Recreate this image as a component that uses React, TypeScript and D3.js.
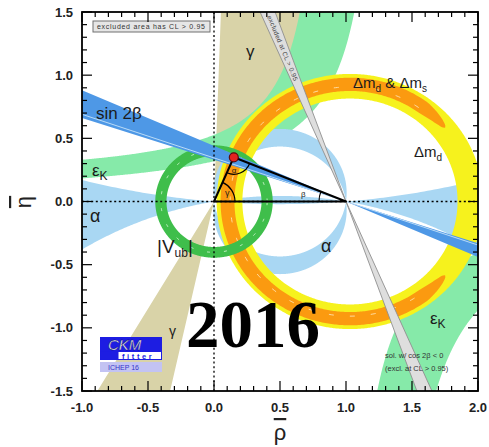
import React from "react";
import * as d3 from "d3";

// ---- axis ticks ----
const rhoTicks = [-1, -0.5, 0, 0.5, 1, 1.5, 2];
const rhoLabels = ["-1.0", "-0.5", "0.0", "0.5", "1.0", "1.5", "2.0"];
const etaTicks = [-1.5, -1, -0.5, 0, 0.5, 1, 1.5];
const etaLabels = ["-1.5", "-1.0", "-0.5", "0.0", "0.5", "1.0", "1.5"];

// ---- constraint parameters (rho-bar, eta-bar plane) ----
const apex = [0.15, 0.35];
const gammaUpper = [62, 88]; // wedge angles from the origin, degrees
const gammaLower = [239.5, 257.5];
const sin2bTan = [0.33, 0.44]; // tan(beta) edges of the band through (1,0)
const sin2bCore = [0.345];
const cos2bNegSlope = [0.358, 0.434]; // |d rho / d eta| of the second solution
const alphaNear = [0.07, -0.07]; // circle centres (0.5, c) through (0,0),(1,0)
const alphaFar = [5.97, -2.82];
const epsUpperEdges = [
  [1.35, 0.43, 0],
  [0.9, 0.337, 0.153],
]; // eta = b + k / (a - rho)
const epsLowerEdges = [
  [0.95, 0.43],
  [1.257, 0.639],
]; // eta = -k / (rho - a)
const vubRange = [0.36, 0.445];
const dmCentre = [1.03];
const dmdRange = [0.815, 1.01];
const dmsRange = [0.875, 0.98];
const dmsArc = [39, 321];

const W = 489;
const H = 447;

export default function App() {
  const x = d3.scaleLinear().domain([-1, 2]).range([82, 478]);
  const y = d3.scaleLinear().domain([-1.5, 1.5]).range([391, 12]);
  const line = d3
    .line<number[]>()
    .x((d) => x(d[0]))
    .y((d) => y(d[1]));
  const poly = (pts: number[][]) => (line(pts) as string) + "Z";
  const circlePts = (cx: number, cy: number, r: number, n = 720) =>
    d3.range(n).map((i) => {
      const t = (2 * Math.PI * i) / n;
      return [cx + r * Math.cos(t), cy + r * Math.sin(t)];
    });
  const throughBase = (c: number) => circlePts(0.5, c, Math.sqrt(0.25 + c * c), 1440);

  const x0 = x(-1),
    x1 = x(2),
    y0 = y(1.5),
    y1 = y(-1.5);
  const rectPath = `M${x0 - 5},${y0 - 5}H${x1 + 5}V${y1 + 5}H${x0 - 5}Z`;

  // gamma wedges
  const wedge = (a: number[]) => {
    const R = 4;
    return poly([
      [0, 0],
      [R * Math.cos((a[0] * Math.PI) / 180), R * Math.sin((a[0] * Math.PI) / 180)],
      [R * Math.cos((a[1] * Math.PI) / 180), R * Math.sin((a[1] * Math.PI) / 180)],
    ]);
  };

  // epsilon_K bands
  const epsU = (e: number[], r: number) => e[2] + e[1] / (e[0] - r);
  const topRho = (e: number[], h: number) => e[0] - e[1] / (h - e[2]);
  const eU0 = epsUpperEdges[0];
  const eU1 = epsUpperEdges[1];
  const rTop0 = topRho(eU0, 1.6);
  const rTop1 = topRho(eU1, 1.6);
  const upperEps = [
    ...d3.range(0, 301).map((i) => {
      const r = -1.1 + ((rTop0 + 1.1) * i) / 300;
      return [r, epsU(eU0, r)];
    }),
    ...d3.range(0, 301).map((i) => {
      const r = rTop1 - ((rTop1 + 1.1) * i) / 300;
      return [r, epsU(eU1, r)];
    }),
  ];
  const eL0 = epsLowerEdges[0];
  const eL1 = epsLowerEdges[1];
  const bot0 = eL0[0] + eL0[1] / 1.6;
  const bot1 = eL1[0] + eL1[1] / 1.6;
  const lowerEps = [
    ...d3.range(0, 301).map((i) => {
      const r = bot0 + ((2.1 - bot0) * i) / 300;
      return [r, -eL0[1] / (r - eL0[0])];
    }),
    ...d3.range(0, 301).map((i) => {
      const r = 2.1 - ((2.1 - bot1) * i) / 300;
      return [r, -eL1[1] / (r - eL1[0])];
    }),
  ];

  // sin 2beta band through (1,0)
  const sinBand =
    poly([
      [1, 0],
      [-1.2, sin2bTan[0] * 2.2],
      [-1.2, sin2bTan[1] * 2.2],
    ]) +
    poly([
      [1, 0],
      [2.2, -sin2bTan[0] * 1.2],
      [2.2, -sin2bTan[1] * 1.2],
    ]);
  const sinCore = line([
    [-1.2, sin2bCore[0] * 2.2],
    [2.2, -sin2bCore[0] * 1.2],
  ]) as string;

  // cos 2beta < 0 solution
  const grayBand =
    poly([
      [1, 0],
      [1 - cos2bNegSlope[0] * 1.6, 1.6],
      [1 - cos2bNegSlope[1] * 1.6, 1.6],
    ]) +
    poly([
      [1, 0],
      [1 + cos2bNegSlope[0] * 1.6, -1.6],
      [1 + cos2bNegSlope[1] * 1.6, -1.6],
    ]);

  // alpha regions
  const alphaFarPath =
    rectPath + poly(throughBase(alphaFar[0])) + poly(throughBase(alphaFar[1]));
  const alphaNearPath = poly(throughBase(alphaNear[0])) + poly(throughBase(alphaNear[1]));

  // rings
  const ring = (cx: number, r: number[]) =>
    poly(circlePts(cx, 0, r[1])) + poly(circlePts(cx, 0, r[0]));
  const cm = dmCentre[0];
  const dmsMid = (dmsRange[0] + dmsRange[1]) / 2;
  const dmsHalf = (dmsRange[1] - dmsRange[0]) / 2;
  const dmsPts = (() => {
    const n = 400;
    const taper = 14;
    const outer: number[][] = [];
    const inner: number[][] = [];
    for (let i = 0; i <= n; i++) {
      const th = dmsArc[0] + ((dmsArc[1] - dmsArc[0]) * i) / n;
      const f = Math.min(1, (th - dmsArc[0]) / taper, (dmsArc[1] - th) / taper);
      const hw = dmsHalf * Math.sqrt(Math.max(0, f));
      const t = (th * Math.PI) / 180;
      outer.push([cm + (dmsMid + hw) * Math.cos(t), (dmsMid + hw) * Math.sin(t)]);
      inner.push([cm + (dmsMid - hw) * Math.cos(t), (dmsMid - hw) * Math.sin(t)]);
    }
    return [...outer, ...inner.reverse()];
  })();
  const dmsDash = circlePts(cm, 0, dmsMid - 0.02, 360).filter(
    (p) => Math.abs(Math.atan2(p[1], p[0] - cm)) > 0.95
  );

  // unitarity triangle
  const O = [x(0), y(0)];
  const B = [x(1), y(0)];
  const A = [x(apex[0]), y(apex[1])];
  const angTo = (p: number[], q: number[]) => Math.atan2(q[1] - p[1], q[0] - p[0]);
  const arcD = (c: number[], r: number, a0: number, a1: number) => {
    const p = d3.path();
    p.moveTo(c[0] + r * Math.cos(a0), c[1] + r * Math.sin(a0));
    p.arc(c[0], c[1], r, a0, a1, a1 < a0);
    return p.toString();
  };
  const gArc = arcD(O, 21, 0, angTo(O, A));
  const bArc = arcD(B, 27, Math.PI, Math.PI + (Math.PI + angTo(B, A)));
  const aArc = arcD(A, 17, angTo(A, B), angTo(A, O));

  // ticks
  const xMinor = d3.range(-10, 21).map((i) => i / 10);
  const yMinor = d3.range(-15, 16).map((i) => i / 10);
  const isMajor = (v: number) => Math.abs(v * 2 - Math.round(v * 2)) < 1e-6;

  const sans = "'Liberation Sans', Arial, Helvetica, sans-serif";
  const txt = "#1b1b1b";

  return (
    <div style={{ position: "absolute", left: 0, top: 0 }}>
      <svg width={W} height={H} viewBox={`0 0 ${W} ${H}`} style={{ display: "block", background: "#fff" }}>
        <defs>
          <clipPath id="plotArea">
            <rect x={x0} y={y0} width={x1 - x0} height={y1 - y0} />
          </clipPath>
        </defs>
        <rect x={0} y={0} width={W} height={H} fill="#fff" />

        <g clipPath="url(#plotArea)">
          {/* gamma */}
          <path d={wedge(gammaUpper) + wedge(gammaLower)} fill="#d9d3a8" />
          {/* epsilon_K */}
          <path d={poly(upperEps)} fill="#86eaa9" />
          <path d={poly(lowerEps)} fill="#86eaa9" />
          {/* alpha */}
          <path d={alphaFarPath} fill="#a9d7f3" fillRule="evenodd" />
          <path d={alphaNearPath} fill="#a9d7f3" fillRule="evenodd" />
          {/* Delta m_d */}
          <path d={ring(cm, dmdRange)} fill="#f6f21d" fillRule="evenodd" />
          {/* Delta m_d & Delta m_s */}
          <path d={poly(dmsPts)} fill="#fb9a10" />
          <path
            d={line(dmsDash) as string}
            fill="none"
            stroke="#ffe3b0"
            strokeWidth={0.9}
            strokeDasharray="5 16"
          />
          {/* |Vub| */}
          <path d={ring(0, vubRange)} fill="#3fbe4b" fillRule="evenodd" />
          <path
            d={poly(circlePts(0, 0, (vubRange[0] + vubRange[1]) / 2, 360))}
            fill="none"
            stroke="#c9f2c9"
            strokeWidth={1}
            strokeDasharray="3 14"
          />
          {/* sin 2beta */}
          <path d={sinBand} fill="#4e98e6" />
          <path d={sinCore} stroke="#b9dbf7" strokeWidth={1} fill="none" />
          {/* cos 2beta < 0 */}
          <path d={grayBand} fill="#dedede" stroke="#8e8e8e" strokeWidth={0.9} />
          <text
            transform={`translate(${x(1 - 0.396 * 1.47)},${y(1.47)}) rotate(67.5)`}
            fontFamily={sans}
            fontSize={6.5}
            fill="#444"
            dy={2.2}
            textLength={70}
          >
            excluded at CL &gt; 0.95
          </text>

          {/* dotted axes */}
          <line x1={x(0)} x2={x(0)} y1={y0} y2={y1} stroke="#000" strokeWidth={1.3} strokeDasharray="2 2.6" />
          <line x1={x0} x2={x1} y1={y(0)} y2={y(0)} stroke="#000" strokeWidth={1.3} strokeDasharray="2 2.6" />

          {/* triangle */}
          <path d={aArc} fill="none" stroke="#000" strokeWidth={1.2} />
          <path d={gArc} fill="none" stroke="#000" strokeWidth={1.2} />
          <path d={bArc} fill="none" stroke="#000" strokeWidth={1.2} />
          <path
            d={`M${O[0]},${O[1]}L${B[0]},${B[1]}L${A[0]},${A[1]}Z`}
            fill="none"
            stroke="#000"
            strokeWidth={2}
            strokeLinejoin="round"
          />
          <circle cx={A[0]} cy={A[1]} r={4.5} fill="#e3231f" stroke="#5a0d0d" strokeWidth={1.2} />
          <text x={A[0] - 2} y={A[1] + 16} fontFamily={sans} fontSize={8} fill={txt}>
            α
          </text>
          <text x={O[0] + 11} y={O[1] - 6} fontFamily={sans} fontSize={9} fill={txt}>
            γ
          </text>
          <text x={B[0] - 45} y={B[1] - 5} fontFamily={sans} fontSize={8} fill={txt}>
            β
          </text>
        </g>

        {/* constraint labels */}
        <g fontFamily={sans} fill={txt}>
          <text x={246} y={57} fontSize={17}>γ</text>
          <text x={169} y={336} fontSize={14}>γ</text>
          <text x={96} y={119} fontSize={17}>sin 2β</text>
          <text x={92} y={176} fontSize={17}>
            ε<tspan dy={4} fontSize={12}>K</tspan>
          </text>
          <text x={430} y={324} fontSize={17}>
            ε<tspan dy={4} fontSize={12}>K</tspan>
          </text>
          <text x={90} y={222} fontSize={18}>α</text>
          <text x={321} y={252} fontSize={18}>α</text>
          <text x={157} y={253} fontSize={19}>
            |V<tspan dy={4} fontSize={12}>ub</tspan>
            <tspan dy={-4}>|</tspan>
          </text>
          <text x={353} y={88} fontSize={15}>
            Δm<tspan dy={4} fontSize={10}>d</tspan>
            <tspan dy={-4}> &amp; Δm</tspan>
            <tspan dy={4} fontSize={10}>s</tspan>
          </text>
          <text x={414} y={157} fontSize={15}>
            Δm<tspan dy={4} fontSize={10}>d</tspan>
          </text>
        </g>

        {/* notes */}
        <rect x={93} y={21} width={117} height={11} fill="#e6e6e6" stroke="#707070" strokeWidth={1} />
        <text x={97} y={29.3} fontFamily={sans} fontSize={7} fill="#333" textLength={108}>
          excluded area has CL &gt; 0.95
        </text>
        <text x={385} y={358} fontFamily={sans} fontSize={7.5} fill="#333">
          sol. w/ cos 2β &lt; 0
        </text>
        <text x={385} y={371} fontFamily={sans} fontSize={7.5} fill="#333">
          (excl. at CL &gt; 0.95)
        </text>

        {/* logo */}
        <rect x={100} y={337} width={62} height={14} fill="#1d1de2" />
        <text
          x={108}
          y={349.5}
          fontFamily={sans}
          fontStyle="italic"
          fontSize={15}
          fill="#fff"
          stroke="#0a0a60"
          strokeWidth={0.4}
        >
          CKM
        </text>
        <rect x={100.5} y={351.5} width={61} height={8} fill="#fff" stroke="#1d1de2" strokeWidth={1} />
        <rect x={100.5} y={351.5} width={18} height={8} fill="#1d1de2" />
        <text x={122} y={358.6} fontFamily={sans} fontWeight="bold" fontSize={7.5} fill="#1d1de2" letterSpacing={2.6}>
          fitter
        </text>
        <rect x={100} y={362} width={62} height={10} fill="#c3c3f3" />
        <text x={108} y={370} fontFamily={sans} fontSize={7} fill="#3535c8">
          ICHEP 16
        </text>

        {/* year */}
        <text x={186} y={347} fontFamily="'Liberation Serif', 'Times New Roman', serif" fontWeight="bold" fontSize={67} fill="#000">
          2016
        </text>

        {/* ticks */}
        <g stroke="#000" strokeWidth={1.2}>
          {xMinor.map((v, i) => {
            const L = isMajor(v) ? 10 : 5;
            return (
              <g key={"xt" + i}>
                <line x1={x(v)} x2={x(v)} y1={y1} y2={y1 - L} />
                <line x1={x(v)} x2={x(v)} y1={y0} y2={y0 + L} />
              </g>
            );
          })}
          {yMinor.map((v, i) => {
            const L = isMajor(v) ? 10 : 5;
            return (
              <g key={"yt" + i}>
                <line x1={x0} x2={x0 + L} y1={y(v)} y2={y(v)} />
                <line x1={x1} x2={x1 - L} y1={y(v)} y2={y(v)} />
              </g>
            );
          })}
        </g>
        <rect x={x0} y={y0} width={x1 - x0} height={y1 - y0} fill="none" stroke="#000" strokeWidth={1.8} />

        {/* tick labels */}
        <g fontFamily={sans} fontWeight="bold" fontSize={13} fill="#222">
          {rhoTicks.map((v, i) => (
            <text key={"xl" + i} x={x(v)} y={412} textAnchor="middle">
              {rhoLabels[i]}
            </text>
          ))}
          {etaTicks.map((v, i) => (
            <text key={"yl" + i} x={73} y={y(v) + 4.5} textAnchor="end">
              {etaLabels[i]}
            </text>
          ))}
        </g>

        {/* axis titles */}
        <text x={280} y={440} textAnchor="middle" fontFamily={sans} fontSize={22} fill="#222" style={{ textDecoration: "overline" }}>
          ρ
        </text>
        <text
          transform="translate(31,202) rotate(-90)"
          textAnchor="middle"
          fontFamily={sans}
          fontSize={22}
          fill="#222"
          style={{ textDecoration: "overline" }}
        >
          η
        </text>
      </svg>
    </div>
  );
}
